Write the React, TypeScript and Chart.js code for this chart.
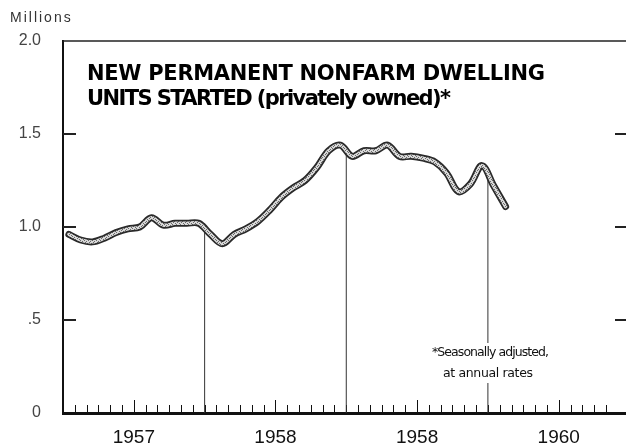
import React, { useEffect, useRef } from "react";
import { Chart, registerables } from "chart.js";

Chart.register(...registerables);

// ---- data ----
const monthLabels = [
  "1957-01", "1957-02", "1957-03", "1957-04", "1957-05", "1957-06",
  "1957-07", "1957-08", "1957-09", "1957-10", "1957-11", "1957-12",
  "1958-01", "1958-02", "1958-03", "1958-04", "1958-05", "1958-06",
  "1958-07", "1958-08", "1958-09", "1958-10", "1958-11", "1958-12",
  "1959-01", "1959-02", "1959-03", "1959-04", "1959-05", "1959-06",
  "1959-07", "1959-08", "1959-09", "1959-10", "1959-11", "1959-12",
  "1960-01", "1960-02",
];
const startsValues = [
  0.96, 0.93, 0.92, 0.94, 0.97, 0.99,
  1.00, 1.05, 1.01, 1.02, 1.02, 1.02,
  0.96, 0.91, 0.96, 0.99, 1.03, 1.09,
  1.16, 1.21, 1.25, 1.32, 1.41, 1.44,
  1.38, 1.41, 1.41, 1.44, 1.38, 1.38,
  1.37, 1.35, 1.29, 1.19, 1.23, 1.33,
  1.22, 1.11,
];
const yearLabels = ["1957", "1958", "1958", "1960"];
const yTickLabels = ["0", ".5", "1.0", "1.5", "2.0"];
const dropLineMonths = ["1957-12", "1958-12", "1959-12"];
const dropLineValues = [1.02, 1.39, 1.31];
const titleLines = ["NEW PERMANENT NONFARM DWELLING", "UNITS STARTED (privately owned)*"];
const footnoteLines = ["*Seasonally adjusted,", "at annual rates"];
const unitLabel = "Millions";

const monthIndex = (label: string) => {
  const [y, m] = label.split("-").map(Number);
  return (y - 1957) * 12 + (m - 1);
};

export default function App() {
  const ref = useRef<HTMLCanvasElement | null>(null);

  useEffect(() => {
    const canvas = ref.current;
    if (!canvas) return;
    const ctx = canvas.getContext("2d")!;

    // stipple pattern for the line fill
    const pc = document.createElement("canvas");
    pc.width = 4;
    pc.height = 4;
    const p = pc.getContext("2d")!;
    p.fillStyle = "#d8d8d8";
    p.fillRect(0, 0, 4, 4);
    p.fillStyle = "#6a6a6a";
    p.fillRect(0, 0, 1, 1);
    p.fillRect(2, 1, 1, 1);
    p.fillRect(1, 2, 1, 1);
    p.fillRect(3, 3, 1, 1);
    const pattern = ctx.createPattern(pc, "repeat")!;

    const lineData = monthLabels.map((m, i) => ({ x: monthIndex(m) + 0.5, y: startsValues[i] }));

    const dropSets = dropLineMonths.map((m, i) => ({
      type: "line" as const,
      data: [
        { x: monthIndex(m) + 1, y: 0 },
        { x: monthIndex(m) + 1, y: dropLineValues[i] },
      ],
      borderColor: "#333",
      borderWidth: 1,
      pointRadius: 0,
      tension: 0,
      order: 2,
    }));

    const fitText = (c: CanvasRenderingContext2D, text: string, target: number) => {
      (c as any).letterSpacing = "0px";
      const w = c.measureText(text).width;
      return (target - w) / (text.length - 1);
    };

    const decor = {
      id: "decor",
      beforeDatasetsDraw(chart: any) {
        const c = chart.ctx;
        const { left, right, top, bottom } = chart.chartArea;
        const xs = chart.scales.x;
        const ys = chart.scales.y;
        c.save();
        c.strokeStyle = "#222";
        // top border
        c.lineWidth = 1.5;
        c.beginPath();
        c.moveTo(left, top);
        c.lineTo(right, top);
        c.stroke();
        // inward y ticks, both sides
        c.lineWidth = 2;
        ys.ticks.forEach((t: any) => {
          if (t.value <= 0 || t.value >= 2) return;
          const y = Math.round(ys.getPixelForValue(t.value));
          c.beginPath();
          c.moveTo(left, y);
          c.lineTo(left + 13, y);
          c.moveTo(right - 11, y);
          c.lineTo(right, y);
          c.stroke();
        });
        // inward x ticks at month boundaries
        c.lineWidth = 1;
        c.strokeStyle = "#111";
        xs.ticks.forEach((t: any) => {
          const v = t.value;
          if (!Number.isInteger(v) || v <= 0) return;
          const x = Math.round(xs.getPixelForValue(v)) + 0.5;
          const h = v % 12 === 6 ? 13 : 8;
          c.beginPath();
          c.moveTo(x, bottom);
          c.lineTo(x, bottom - h);
          c.stroke();
        });
        c.restore();
      },
      afterDatasetsDraw(chart: any) {
        const c = chart.ctx;
        c.save();
        // footnote with white knock-out
        c.fillStyle = "#fff";
        c.fillRect(430, 343, 122, 40);
        c.fillStyle = "#111";
        c.font = "12.5px 'DejaVu Sans', sans-serif";
        c.textAlign = "left";
        c.textBaseline = "middle";
        (c as any).letterSpacing = fitText(c, footnoteLines[0], 117) + "px";
        c.fillText(footnoteLines[0], 432, 353);
        (c as any).letterSpacing = fitText(c, footnoteLines[1], 90) + "px";
        c.fillText(footnoteLines[1], 443, 374);

        // unit label
        c.textBaseline = "alphabetic";
        c.fillStyle = "#333";
        c.font = "14px 'Liberation Sans', sans-serif";
        (c as any).letterSpacing = "2px";
        c.fillText(unitLabel, 10, 22);

        // title
        c.fillStyle = "#000";
        c.font = "bold 21px 'DejaVu Sans', sans-serif";
        (c as any).letterSpacing = fitText(c, titleLines[0], 458) + "px";
        c.fillText(titleLines[0], 87, 80);
        (c as any).letterSpacing = fitText(c, titleLines[1], 364) + "px";
        c.fillText(titleLines[1], 87, 105);
        (c as any).letterSpacing = "0px";
        c.restore();
      },
    };

    const chart = new Chart(ctx, {
      type: "line",
      data: {
        datasets: [
          {
            data: lineData,
            borderColor: pattern as any,
            borderWidth: 3.5,
            pointRadius: 0,
            tension: 0.35,
            borderCapStyle: "round",
            borderJoinStyle: "round",
            order: 0,
          },
          {
            data: lineData,
            borderColor: "#2a2a2a",
            borderWidth: 7,
            pointRadius: 0,
            tension: 0.35,
            borderCapStyle: "round",
            borderJoinStyle: "round",
            order: 1,
          },
          ...dropSets,
        ] as any,
      },
      options: {
        animation: false,
        responsive: false,
        maintainAspectRatio: false,
        layout: { padding: { top: 41, left: 0, right: 0, bottom: 0 } },
        plugins: { legend: { display: false }, tooltip: { enabled: false } },
        scales: {
          x: {
            type: "linear",
            min: 0,
            max: 47.7,
            grid: { display: false, drawTicks: false },
            border: { display: true, color: "#111", width: 3 },
            ticks: {
              stepSize: 1,
              autoSkip: false,
              maxRotation: 0,
              padding: 13,
              color: "#111",
              font: { family: "'Liberation Sans', sans-serif", size: 19 },
              callback: (value: any) => {
                const v = Number(value);
                if (Number.isInteger(v) && v % 12 === 6) return yearLabels[(v - 6) / 12];
                return "";
              },
            },
            afterFit: (s: any) => {
              s.height = 34;
              s.paddingLeft = 0;
              s.paddingRight = 0;
            },
          },
          y: {
            min: 0,
            max: 2,
            grid: { display: false, drawTicks: false },
            border: { display: true, color: "#111", width: 2 },
            ticks: {
              stepSize: 0.5,
              padding: 22,
              color: "#444",
              font: { family: "'Liberation Sans', sans-serif", size: 16 },
              callback: (value: any) => yTickLabels[Math.round(Number(value) / 0.5)],
            },
            afterFit: (s: any) => {
              s.width = 63;
            },
          },
        },
      },
      plugins: [decor],
    });

    return () => chart.destroy();
  }, []);

  return (
    <div style={{ position: "relative", width: 626, height: 447, background: "#fff" }}>
      <style>{`body{margin:0;background:#fff}`}</style>
      <canvas ref={ref} width={626} height={447} style={{ display: "block", width: 626, height: 447 }} />
    </div>
  );
}
